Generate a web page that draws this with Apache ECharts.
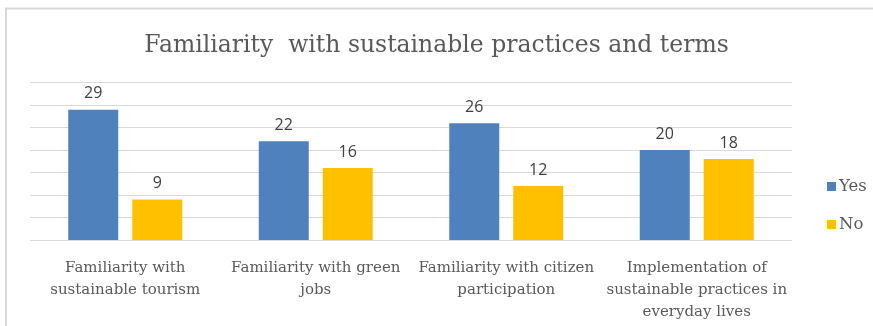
<!DOCTYPE html>
<html>
<head>
<meta charset="utf-8">
<script src="https://cdn.jsdelivr.net/npm/echarts@6/dist/echarts.min.js"></script>
<style>
html,body{margin:0;padding:0;background:#fff;}
#chart{width:873px;height:326px;}
</style>
</head>
<body>
<div id="chart"></div>
<script>
var categories = [
  "Familiarity with\nsustainable tourism",
  "Familiarity with green\njobs",
  "Familiarity with citizen\nparticipation",
  "Implementation of\nsustainable practices in\neveryday lives"
];
var yesValues = [29, 22, 26, 20];
var noValues = [9, 16, 12, 18];
var seriesNames = ["Yes", "No"];
var titleText = "Familiarity  with sustainable practices and terms";

var chart = echarts.init(document.getElementById('chart'), null, {renderer: 'canvas'});
var serif = '"DejaVu Serif", serif';
var labelStyle = {
  show: true, position: 'top', distance: 8,
  color: '#404040', fontSize: 16, fontFamily: '"Open Sans", sans-serif'
};
chart.setOption({
  animation: false,
  backgroundColor: '#ffffff',
  title: {
    text: titleText, left: 'center', top: 29,
    textStyle: {fontFamily: serif, fontSize: 23.5, fontWeight: 'normal', color: '#595959'}
  },
  legend: {
    orient: 'vertical', left: 822, top: 173, itemGap: 21,
    itemWidth: 9, itemHeight: 9, icon: 'rect',
    textStyle: {fontFamily: serif, fontSize: 16.5, color: '#595959', padding: [0,0,0,-2]},
    data: seriesNames
  },
  grid: {left: 30, right: 81, top: 82.7, bottom: 86, containLabel: false},
  xAxis: {
    type: 'category', data: categories,
    axisLine: {show: false}, axisTick: {show: false},
    axisLabel: {interval: 0, margin: 17, fontFamily: serif, fontSize: 15, color: '#595959', lineHeight: 22}
  },
  yAxis: {
    type: 'value', min: 0, max: 35, interval: 5,
    axisLabel: {show: false}, axisLine: {show: false}, axisTick: {show: false},
    splitLine: {lineStyle: {color: '#d9d9d9', width: 1}}
  },
  series: [
    {name: seriesNames[0], type: 'bar', data: yesValues, barWidth: 50, barGap: '28%',
     itemStyle: {color: '#4f81bd'}, label: labelStyle},
    {name: seriesNames[1], type: 'bar', data: noValues, barWidth: 50, barGap: '28%',
     itemStyle: {color: '#ffc000'}, label: labelStyle}
  ],
  graphic: [
    {type: 'line', shape: {x1: 5, y1: 8.5, x2: 873, y2: 8.5}, style: {stroke: '#d9d9d9', lineWidth: 2}},
    {type: 'line', shape: {x1: 6, y1: 8, x2: 6, y2: 326}, style: {stroke: '#d9d9d9', lineWidth: 2}}
  ]
});
</script>
</body>
</html>
